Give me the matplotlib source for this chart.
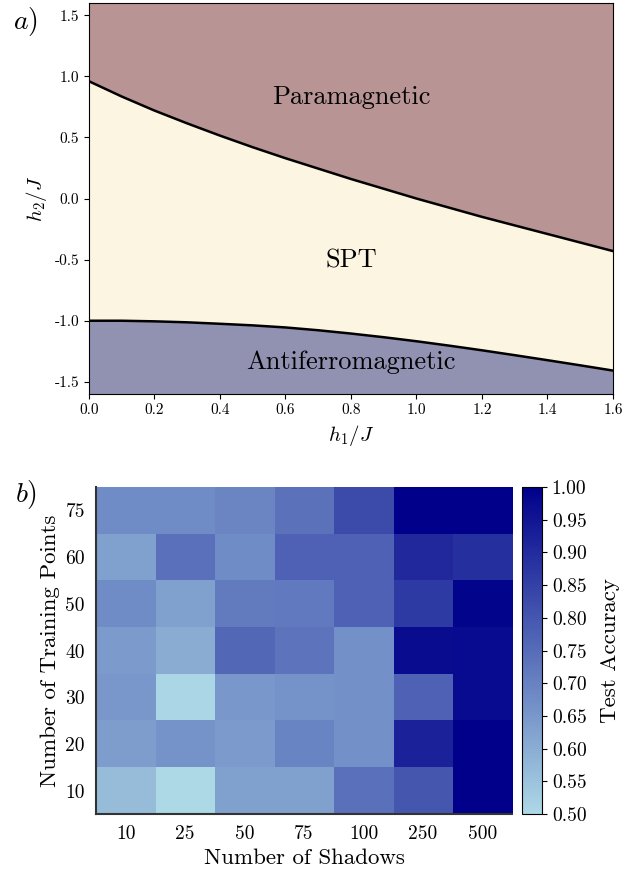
import numpy as np
import matplotlib
matplotlib.use('Agg')
import matplotlib.pyplot as plt
from matplotlib.colors import LinearSegmentedColormap

plt.rcParams['font.family'] = 'serif'
plt.rcParams['font.serif'] = ['cmr10']
plt.rcParams['mathtext.fontset'] = 'cm'
plt.rcParams['axes.unicode_minus'] = False
plt.rcParams['axes.formatter.use_mathtext'] = True

# fase (painel a)
h1 = [0.0, 0.1, 0.2, 0.3, 0.4, 0.5, 0.6, 0.7, 0.8,
      0.9, 1.0, 1.1, 1.2, 1.3, 1.4, 1.5, 1.6]
borda_sup = [0.96, 0.835, 0.72, 0.615, 0.515, 0.42, 0.33, 0.245, 0.16,
             0.08, 0.0, -0.075, -0.15, -0.22, -0.29, -0.36, -0.43]
borda_inf = [-1.0, -1.0, -1.005, -1.013, -1.025, -1.038, -1.055, -1.078, -1.105,
             -1.135, -1.168, -1.204, -1.242, -1.282, -1.323, -1.365, -1.408]

# acuracia (painel b)
n_sombras = ['10', '25', '50', '75', '100', '250', '500']
n_treino = ['75', '60', '50', '40', '30', '20', '10']
acuracia = np.array([
    [0.675, 0.675, 0.69, 0.735, 0.826, 1.00, 1.00],
    [0.63, 0.74, 0.675, 0.775, 0.775, 0.905, 0.89],
    [0.675, 0.63, 0.715, 0.72, 0.775, 0.865, 0.99],
    [0.64, 0.60, 0.76, 0.73, 0.665, 0.97, 0.975],
    [0.65, 0.505, 0.65, 0.66, 0.665, 0.775, 0.975],
    [0.635, 0.66, 0.64, 0.695, 0.665, 0.92, 1.00],
    [0.565, 0.50, 0.63, 0.63, 0.74, 0.80, 1.00],
])

fig = plt.figure(figsize=(6.41, 8.71), dpi=100)

# ---- painel a
ax1 = fig.add_axes([0.1388, 0.5476, 0.8175, 0.4489])
x = np.array(h1)
ax1.fill_between(x, borda_sup, 1.6, color='#b99494', lw=0)
ax1.fill_between(x, borda_inf, borda_sup, color='#fcf5e1', lw=0)
ax1.fill_between(x, -1.6, borda_inf, color='#9191b2', lw=0)
ax1.plot(x, borda_sup, color='black', lw=1.8)
ax1.plot(x, borda_inf, color='black', lw=1.8)
ax1.set_xlim(0, 1.6)
ax1.set_ylim(-1.6, 1.6)
ax1.set_xticks(np.arange(0, 1.61, 0.2))
ax1.set_yticks(np.arange(-1.5, 1.51, 0.5))
ax1.set_xticklabels(['%.1f' % v for v in np.arange(0, 1.61, 0.2)])
ax1.set_yticklabels(['%.1f' % v for v in np.arange(-1.5, 1.51, 0.5)])
ax1.tick_params(labelsize=11)
ax1.set_xlabel(r'$h_1/J$', fontsize=15)
ax1.set_ylabel(r'$h_2/J$', fontsize=15)
ax1.text(0.8, 0.83, 'Paramagnetic', fontsize=19, ha='center', va='center')
ax1.text(0.8, -0.51, 'SPT', fontsize=19, ha='center', va='center')
ax1.text(0.8, -1.34, 'Antiferromagnetic', fontsize=19, ha='center', va='center')
fig.text(0.04, 0.975, r'$a)$', fontsize=20, ha='center', va='center')

# ---- painel b
cmap = LinearSegmentedColormap.from_list('azul', ['lightblue', 'darkblue'])
ax2 = fig.add_axes([0.1498, 0.0654, 0.649, 0.3754])
im = ax2.imshow(acuracia, cmap=cmap, vmin=0.5, vmax=1.0, aspect='auto')
ax2.set_xticks(range(len(n_sombras)))
ax2.set_xticklabels(n_sombras)
ax2.set_yticks(range(len(n_treino)))
ax2.set_yticklabels(n_treino)
ax2.tick_params(length=0, labelsize=14, pad=8)
for s in ['top', 'right']:
    ax2.spines[s].set_visible(False)
for s in ['left', 'bottom']:
    ax2.spines[s].set_color('#333333')
    ax2.spines[s].set_linewidth(1.5)
ax2.set_xlabel('Number of Shadows', fontsize=16.5)
ax2.set_ylabel('Number of Training Points', fontsize=16.5)
fig.text(0.04, 0.432, r'$b)$', fontsize=20, ha='center', va='center')

cax = fig.add_axes([0.8139, 0.0654, 0.0317, 0.3754])
cb = fig.colorbar(im, cax=cax)
cb.set_ticks(np.arange(0.5, 1.001, 0.05))
cb.set_ticklabels(['%.2f' % v for v in np.arange(0.5, 1.001, 0.05)])
cb.ax.tick_params(labelsize=14)
cb.set_label('Test Accuracy', fontsize=16.5, labelpad=10)

fig.savefig('out.png', dpi=100)
